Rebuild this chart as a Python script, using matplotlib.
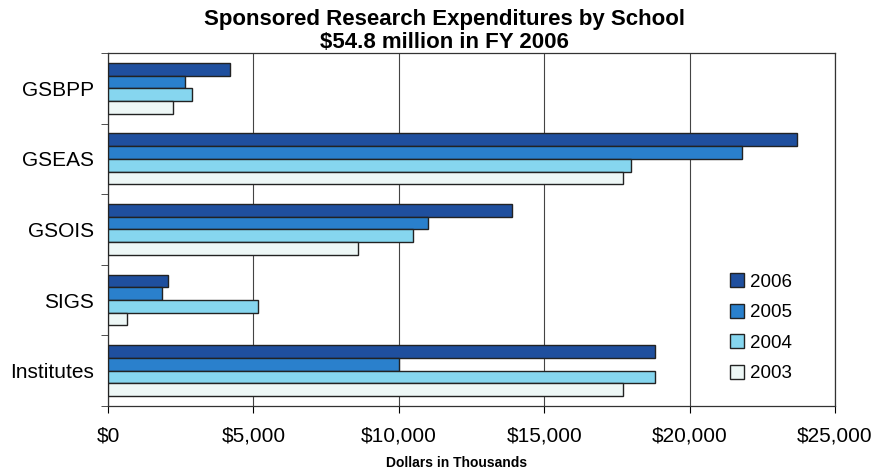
import numpy as np
import matplotlib.pyplot as plt
from matplotlib.ticker import FuncFormatter, MultipleLocator

plt.rcParams['font.family'] = ['Liberation Sans', 'DejaVu Sans']

# --- data (dollars in thousands) ---
schools = ["GSBPP", "GSEAS", "GSOIS", "SIGS", "Institutes"]
years = ["2006", "2005", "2004", "2003"]
fy2006 = [4200, 23700, 13900, 2050, 18800]
fy2005 = [2650, 21800, 11000, 1850, 10000]
fy2004 = [2900, 18000, 10500, 5150, 18800]
fy2003 = [2250, 17700, 8600, 650, 17700]
series = [fy2006, fy2005, fy2004, fy2003]
colors = ["#1f4f9e", "#2a80cc", "#86d6ef", "#edf7f6"]

fig = plt.figure(figsize=(8.73, 4.74), dpi=100)
ax = fig.add_axes([0.1237, 0.1435, 0.8328, 0.7447])

y = np.arange(len(schools))
h = 0.18
for k, (vals, yr, c) in enumerate(zip(series, years, colors)):
    ax.barh(y + (k - 1.5) * h, vals, height=h, color=c, edgecolor="#222222",
            linewidth=1.0, label=yr, zorder=3)

ax.set_ylim(len(schools) - 0.5, -0.5)
ax.set_yticks(y)
ax.set_yticklabels(schools, fontsize=15)
ax.set_yticks(np.arange(-0.5, len(schools), 1.0), minor=True)
ax.tick_params(axis="y", which="major", length=0, pad=10)
ax.tick_params(axis="y", which="minor", length=5, direction="out", color="#333333")

ax.set_xlim(0, 25000)
ax.xaxis.set_major_locator(MultipleLocator(5000))
ax.xaxis.set_major_formatter(FuncFormatter(lambda v, p: "${:,.0f}".format(v)))
ax.tick_params(axis="x", labelsize=15, length=5, direction="out", pad=10)
ax.grid(axis="x", color="#444444", linewidth=0.8, zorder=0)

for s in ax.spines.values():
    s.set_color("#333333")
    s.set_linewidth(0.9)

ax.set_xlabel("Dollars in Thousands", fontsize=10, fontweight="bold")
ax.xaxis.set_label_coords(0.479, -0.142)
fig.suptitle("Sponsored Research Expenditures by School\n$54.8 million in FY 2006",
             x=0.509, y=0.98, va="top", fontsize=16, fontweight="bold",
             linespacing=1.08)

leg = ax.legend(loc="lower right", bbox_to_anchor=(0.964, 0.019), frameon=False,
                fontsize=13.5, handlelength=0.75, handleheight=0.75,
                handletextpad=0.3, labelspacing=0.7)

fig.savefig("out.png", dpi=100)
